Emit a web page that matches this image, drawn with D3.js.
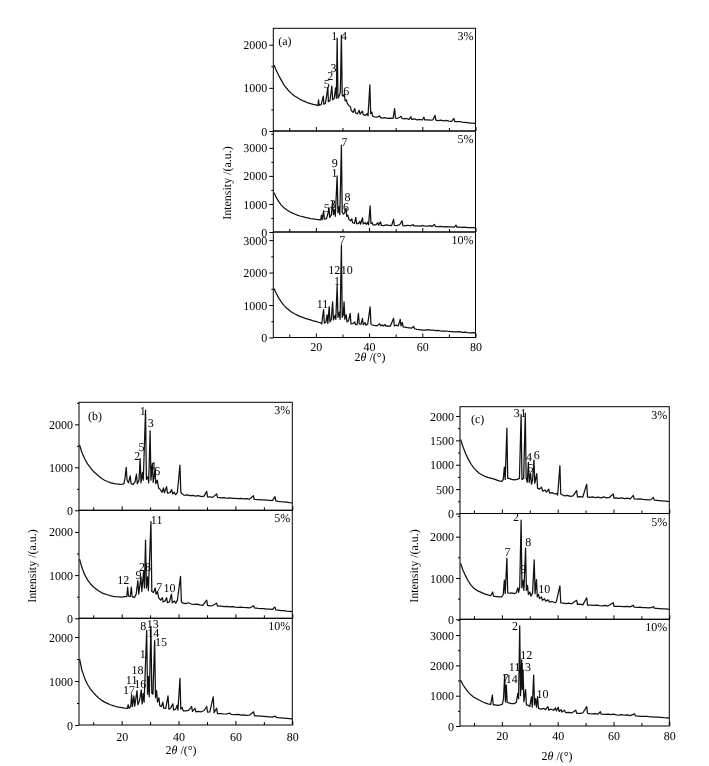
<!DOCTYPE html>
<html><head><meta charset="utf-8">
<script src="https://cdn.jsdelivr.net/npm/d3@7"></script>
<style>body{margin:0;background:#fff} svg{will-change:transform} svg text{font-family:"Liberation Serif","Times New Roman",serif;fill:#000;text-rendering:geometricPrecision;-webkit-font-smoothing:antialiased}</style>
</head><body><svg id="chart" width="709" height="766"></svg>
<script>
// ---------- data: [2theta, intensity] ----------
const a3 = [[4.3,1530],[5,1420],[6,1290],[7,1180],[8,1070],[9,990],[10,920],[11,860],[12,810],[13,775],[14,735],[15,705],[16,680],[17,650],[18,635],[19,615],[20,605],[20.8,590],[21.0,720],[21.2,600],[22,610],[22.8,810],[23.0,620],[23.6,640],[24.5,1010],[24.7,680],[25.3,700],[26.0,1040],[26.3,720],[26.9,760],[27.4,1000],[27.7,760],[28.0,2150],[28.3,760],[28.8,820],[29.2,900],[29.6,2220],[29.9,820],[30.4,810],[30.7,860],[31.0,700],[31.5,720],[31.8,640],[32.3,600],[33.0,560],[33.3,480],[34,430],[34.6,520],[34.9,420],[35.6,400],[36.3,480],[36.6,390],[37.5,460],[37.8,380],[38.6,360],[39.3,400],[39.6,350],[40.3,1070],[40.6,400],[41,440],[41.4,340],[42,330],[43,320],[44,350],[44.3,310],[45,300],[46,310],[47,290],[48,300],[49,290],[49.6,520],[49.9,300],[50.5,290],[51.5,320],[52,340],[52.4,290],[53,280],[54,290],[55,270],[55.7,330],[56,270],[57,280],[58,260],[59,270],[60,255],[60.6,320],[60.9,255],[62,260],[63,250],[64,260],[64.8,360],[65.1,250],[66,240],[67,250],[68,235],[69,245],[70,230],[71,225],[71.9,290],[72.2,220],[73,215],[74,220],[75,205],[76,200],[77,195],[78,185],[79,180],[80,170]];
const a5 = [[4.3,1400],[5,1250],[6,1090],[7,960],[8,860],[9,790],[10,730],[11,680],[12,640],[13,600],[14,570],[15,545],[16,520],[17,500],[18,480],[19,465],[20,450],[21,440],[21.8,430],[22.1,600],[22.4,440],[22.9,750],[23.2,460],[24,480],[24.6,680],[24.9,870],[25.2,520],[25.8,600],[26.3,1090],[26.6,620],[27.0,800],[27.3,560],[28.0,2000],[28.3,680],[28.7,900],[29.0,620],[29.6,3100],[29.9,700],[30.4,640],[30.8,680],[31.3,850],[31.6,560],[32,600],[32.4,450],[33,400],[33.5,470],[33.8,330],[34.5,310],[35.0,520],[35.3,300],[36,300],[36.5,380],[36.8,280],[37.5,500],[37.8,290],[38.5,330],[39,270],[39.5,350],[39.8,260],[40.4,930],[40.7,300],[41.2,330],[41.5,250],[42.5,250],[43.3,330],[43.6,240],[44.3,360],[44.6,240],[45.5,230],[46.5,250],[47.5,240],[48.5,230],[49.2,450],[49.5,240],[50.5,230],[51.5,260],[52.4,400],[52.7,230],[53.5,220],[54.5,240],[55.5,215],[56.5,270],[56.8,215],[58,220],[59,210],[60,230],[61,205],[62,210],[63,230],[63.6,195],[64.6,270],[64.9,200],[66,190],[67,200],[68,185],[69,195],[70,180],[71,185],[72,175],[72.7,240],[73,170],[74,175],[75,165],[76,170],[77,160],[78,155],[79,160],[80,150]];
const a10 = [[4.3,1510],[5,1380],[6,1220],[7,1100],[8,990],[9,910],[10,840],[11,780],[12,730],[13,690],[14,650],[15,620],[16,590],[17,565],[18,540],[19,515],[20,495],[21,470],[21.8,450],[22.2,420],[22.9,860],[23.2,440],[23.8,480],[24.2,700],[24.5,430],[25.0,950],[25.3,480],[25.8,560],[26.3,1100],[26.6,540],[27.2,680],[27.5,560],[28.0,1610],[28.3,620],[28.8,780],[29.1,560],[29.6,2850],[29.9,620],[30.3,700],[30.6,1100],[30.9,560],[31.4,700],[31.7,480],[32.3,520],[32.9,740],[33.2,420],[34,430],[34.6,480],[34.9,400],[35.5,400],[36.0,740],[36.3,420],[37,410],[37.5,590],[37.8,400],[38.5,460],[38.8,380],[39.5,420],[40.4,945],[40.7,420],[41.2,380],[42,370],[43,360],[44,420],[44.3,360],[45,390],[45.3,350],[46,400],[46.3,350],[47,360],[48,350],[49.2,590],[49.5,360],[50.3,380],[51.0,360],[51.7,560],[52.0,360],[52.5,460],[52.8,330],[54,310],[55,300],[56,290],[56.8,340],[57.1,270],[58,250],[59,240],[60,230],[61,225],[62,240],[63,225],[64,230],[65,215],[66,220],[67,200],[68,195],[69,200],[70,185],[71,180],[72,175],[73,170],[74,180],[75,160],[76,165],[77,150],[78,145],[79,150],[80,140]];

const b3 = [[5.2,1520],[6,1350],[7,1200],[8,1080],[9,990],[10,910],[11,850],[12,790],[13,740],[14,700],[15,670],[16,645],[17,625],[18,615],[19,610],[20,600],[20.8,620],[21.2,760],[21.6,1000],[21.9,700],[22.4,640],[23.0,800],[23.3,620],[24,600],[24.7,660],[25.2,840],[25.5,620],[26.1,700],[26.5,1200],[26.8,640],[27.3,880],[27.6,700],[28.4,2330],[28.7,720],[29.2,780],[29.5,640],[30.0,1850],[30.3,700],[30.8,1090],[31.1,650],[31.7,940],[32.0,620],[32.5,700],[33,520],[33.6,480],[34.2,420],[34.7,520],[35,410],[35.8,550],[36.1,400],[37,410],[37.6,480],[37.9,380],[38.5,420],[39,360],[39.6,420],[40.5,1050],[40.8,420],[41.3,380],[42,350],[43,360],[44,340],[45,345],[46,330],[47,340],[48,320],[49,330],[49.9,440],[50.2,310],[51,310],[52,300],[53.4,380],[53.7,300],[55,290],[56,295],[57,280],[58,290],[59,275],[60,280],[61,270],[62,275],[63,265],[64,270],[65,260],[66.3,340],[66.6,255],[68,250],[69,245],[70,240],[71,235],[72,230],[73,225],[73.9,320],[74.2,220],[75,210],[76,200],[77,195],[78,190],[79,180],[80,175]];
const b5 = [[5.2,1370],[6,1180],[7,1010],[8,890],[9,800],[10,730],[11,680],[12,630],[13,590],[14,565],[15,545],[16,525],[17,510],[18,500],[19,495],[20,490],[21,500],[21.8,500],[22.1,720],[22.4,510],[23.0,500],[23.4,720],[23.7,500],[24.5,480],[25.1,560],[25.7,870],[26.0,560],[26.8,960],[27.1,620],[27.7,1080],[28.0,700],[28.4,1810],[28.7,700],[29.1,960],[29.4,640],[30.3,2240],[30.6,620],[31.2,600],[31.8,700],[32.1,560],[32.6,620],[33,480],[33.7,420],[34.3,480],[34.6,380],[35.3,400],[35.8,480],[36.1,360],[36.8,380],[37.5,560],[37.8,360],[38.5,400],[39,350],[39.6,420],[40.7,970],[41.0,380],[41.6,350],[42.5,340],[43.5,360],[44.5,330],[45.5,320],[46.5,330],[47.5,310],[48.5,300],[49.9,420],[50.2,300],[51,290],[52,295],[53.4,350],[53.7,280],[55,280],[56,270],[57,275],[58,265],[59,270],[60,260],[61,255],[62,260],[63,250],[64,245],[65,240],[66.4,290],[66.7,240],[68,230],[69,225],[70,225],[71,215],[72,210],[73,205],[73.9,260],[74.2,195],[75,190],[76,180],[77,175],[78,165],[79,160],[80,155]];
const b10 = [[5.2,1500],[6,1250],[7,1060],[8,920],[9,820],[10,740],[11,670],[12,610],[13,560],[14,520],[15,490],[16,460],[17,440],[18,420],[19,405],[20,395],[21,385],[22,380],[22.3,460],[22.6,380],[23.2,420],[23.5,690],[23.8,420],[24.3,660],[24.6,430],[25.4,780],[25.7,460],[26.3,560],[26.9,800],[27.2,480],[27.6,720],[27.9,520],[28.8,2150],[29.1,700],[29.4,1100],[29.7,640],[30.3,2240],[30.6,720],[31.0,700],[31.6,1920],[31.9,620],[32.3,780],[32.6,520],[33.1,620],[33.4,440],[34.0,420],[34.5,520],[34.8,380],[35.5,380],[36.3,660],[36.6,360],[37.2,380],[38.0,480],[38.3,340],[39,360],[39.5,450],[39.8,340],[40.5,1060],[40.8,360],[41.3,400],[41.6,320],[42.5,320],[43.5,330],[44.6,420],[44.9,310],[45.8,380],[46.1,300],[47,310],[48,300],[49,330],[49.9,420],[50.2,290],[51,300],[52.2,640],[52.5,280],[53.4,380],[53.7,260],[55,260],[56,250],[57,255],[58,270],[58.5,240],[60,235],[61,240],[62,225],[63,230],[64,220],[65,225],[66.4,300],[66.7,210],[68,205],[69,200],[70,195],[71,190],[72,185],[73,180],[74,200],[74.5,170],[75,165],[76,160],[77,155],[78,150],[79,145],[80,140]];

const c3 = [[5.2,1520],[6,1380],[7,1230],[8,1110],[9,1010],[10,930],[11,870],[12,820],[13,790],[14,760],[15,740],[16,725],[17,710],[18,690],[19,670],[20,660],[20.5,700],[20.9,950],[21.2,700],[21.8,1750],[22.1,720],[22.6,720],[23.5,700],[24.5,690],[25.5,700],[26.3,720],[26.9,2030],[27.2,700],[27.8,720],[28.4,2060],[28.7,720],[29.1,640],[29.5,1050],[29.8,640],[30.3,830],[30.6,600],[31.0,680],[31.5,1100],[31.8,620],[32.5,820],[32.8,520],[33.5,500],[34.2,540],[34.6,460],[35.5,480],[36,440],[36.8,500],[37.1,420],[38,430],[38.8,400],[39.5,410],[40.0,380],[40.8,980],[41.1,400],[41.8,380],[42.5,360],[43.5,370],[44.5,350],[45.5,360],[46.8,470],[47.1,340],[48,345],[49,335],[50.4,600],[50.7,340],[51.5,330],[52.5,340],[53.5,325],[54.5,335],[55.5,320],[56.5,340],[57.5,320],[58.5,330],[59.9,400],[60.2,315],[61,320],[62,310],[63,320],[64,305],[65,315],[66,300],[67.1,370],[67.4,300],[68.5,295],[69.5,300],[70.5,290],[71.5,285],[72.5,280],[73.5,285],[74.3,330],[74.6,275],[75.5,270],[76.5,265],[77.5,260],[78.5,255],[79.5,250],[80,245]];
const c5 = [[5.2,1360],[6,1200],[7,1050],[8,920],[9,820],[10,750],[11,700],[12,670],[13,640],[14,610],[15,590],[16,570],[16.7,660],[17.0,560],[18,550],[19,540],[20,545],[20.5,600],[20.9,950],[21.2,620],[21.8,1480],[22.1,640],[22.8,630],[23.5,640],[24.5,620],[25.2,650],[25.7,760],[26.0,650],[26.4,780],[26.9,2400],[27.2,760],[27.6,940],[27.9,700],[28.5,1720],[28.8,700],[29.2,820],[29.5,600],[30.0,660],[30.4,560],[31.0,640],[31.6,1440],[31.9,620],[32.4,960],[32.7,540],[33.1,600],[33.5,500],[34.2,540],[34.5,460],[35.3,500],[35.7,440],[36.5,470],[37,420],[38,430],[39,400],[39.5,420],[40.8,810],[41.1,400],[42,390],[43,380],[44,390],[45,375],[46.8,460],[47.1,360],[48,365],[49,350],[50.4,520],[50.7,345],[52,340],[53,335],[54,345],[55,330],[56,325],[57,335],[58,320],[59.9,400],[60.2,315],[61.5,310],[62.5,315],[63.5,305],[65,310],[66,300],[67.1,340],[67.4,295],[68.5,290],[69.5,295],[70.5,285],[71.5,280],[72.5,275],[73.5,280],[74.3,310],[74.6,270],[75.5,265],[76.5,260],[77.5,255],[78.5,250],[79.5,245],[80,240]];
const c10 = [[5.2,1520],[6,1370],[7,1230],[8,1110],[9,1020],[10,950],[11,900],[12,850],[13,800],[14,760],[15,730],[16,710],[16.6,1020],[16.9,700],[17.5,700],[18.5,680],[19.5,700],[20.2,720],[20.6,900],[21.0,1680],[21.3,800],[21.6,1350],[21.9,780],[22.5,760],[23.5,740],[24.5,740],[25.2,780],[25.7,1080],[26.0,900],[26.4,3300],[26.7,1000],[27.1,2180],[27.3,1200],[27.6,1850],[27.9,800],[28.5,1200],[28.8,700],[29.5,680],[30.0,640],[30.6,960],[30.9,620],[31.4,1680],[31.7,700],[32.1,900],[32.4,620],[32.8,970],[33.1,580],[34,560],[35,580],[35.6,540],[36.5,640],[36.8,520],[37.5,560],[38.5,520],[39.2,600],[39.5,500],[40.2,620],[40.5,480],[41.2,540],[41.5,460],[42.5,520],[42.8,440],[44,450],[45,430],[46.5,520],[46.8,420],[48,420],[49,430],[50.4,640],[50.7,420],[51.5,410],[52.5,400],[53.5,410],[54.5,395],[55.3,470],[55.6,390],[57,385],[58,390],[59,375],[60,390],[61,370],[62,360],[63,375],[64,355],[65,365],[66,345],[67.6,400],[67.9,330],[69,325],[70,320],[71,315],[72,320],[73,305],[74,300],[75,295],[76,290],[77,285],[78,275],[79,270],[80,265]];

// peak annotations [text, 2theta, intensity]
const labA3 = [["1",26.9,2107],["4",30.6,2107],["3",26.6,1366],["2",25.4,1180],["5",24.1,995],["6",31.4,840]];
const labA5 = [["7",30.8,3080],["9",27.1,2310],["1",27.0,1950],["5",24.1,700],["3",26.4,860],["8",31.9,1120],["6",31.3,760]];
const labA10 = [["7",29.9,2880],["12",26.9,1953],["10",31.6,1953],["1",27.9,1623],["11",22.5,904]];
const labB3 = [["1",27.4,2224],["3",30.2,1945],["5",27.0,1372],["2",25.5,1177],["4",30.9,937],["6",32.5,828]];
const labB5 = [["11",32.3,2183],["28",28.2,1102],["9",25.9,910],["12",20.6,794],["7",33.2,639],["10",36.8,602]];
const labB10 = [["8",27.6,2159],["13",30.9,2205],["14",31.1,1993],["15",33.8,1803],["1",27.4,1523],["18",25.6,1159],["11",23.5,932],["16",26.5,841],["17",22.6,705]];
const labC3 = [["3",25.3,1971],["1",27.7,1971],["4",29.7,1070],["6",32.5,1117],["5",30.3,844]];
const labC5 = [["2",25.1,2372],["8",29.5,1767],["7",22.0,1540],["9",27.7,1114],["10",35.2,629]];
const labC10 = [["2",24.7,3168],["12",28.7,2211],["11",24.5,1805],["13",28.3,1805],["7",21.4,1442],["14",23.5,1419],["10",34.6,924]];

const contents = ["3%","5%","10%"];
const xTickVals = [20,40,60,80];
const xMinorVals = [10,30,50,70];
const yTicksA = [[0,1000,2000],[0,1000,2000,3000],[0,1000,2000,3000]];
const yTicksB = [[0,1000,2000],[0,1000,2000],[0,1000,2000]];
const yTicksC = [[0,500,1000,1500,2000],[0,1000,2000],[0,1000,2000,3000]];
const yMaxA = [2380,3600,3250], yMaxB = [2512,2500,2425], yMaxC = [2190,2560,3520];

// ---------- layout ----------
const groups = [
  {tag:"(a)", x0:273.3, x1:475.5, xd:[4,80], bands:[[28.3,131],[131,232],[232,337.5]], ymax:yMaxA, yt:yTicksA,
   series:[a3,a5,a10], labs:[labA3,labA5,labA10], tagOff:[5,17], tickLab:13.5, xTitle:[370,361], yTitle:[231,183]},
  {tag:"(b)", x0:79, x1:292.3, xd:[5,80], bands:[[402.3,510.3],[510.3,618.3],[618.3,725]], ymax:yMaxB, yt:yTicksB,
   series:[b3,b5,b10], labs:[labB3,labB5,labB10], tagOff:[9,18], tickLab:16.5, xTitle:[181,754], yTitle:[36,566]},
  {tag:"(c)", x0:460, x1:669.3, xd:[5,80], bands:[[406.7,513.5],[513.5,619.3],[619.3,726]], ymax:yMaxC, yt:yTicksC,
   series:[c3,c5,c10], labs:[labC3,labC5,labC10], tagOff:[11,16], tickLab:14, xTitle:[557,760], yTitle:[418,566]}
];

const svg = d3.select("#chart");
const FS = 12;

groups.forEach((g,gi)=>{
  const x = d3.scaleLinear().domain(g.xd).range([g.x0,g.x1]);
  g.bands.forEach((b,pi)=>{
    const y = d3.scaleLinear().domain([0,g.ymax[pi]]).range([b[1],b[0]]);
    const cid = "clip"+gi+"_"+pi;
    svg.append("clipPath").attr("id",cid).append("rect")
      .attr("x",g.x0).attr("y",b[0]).attr("width",g.x1-g.x0).attr("height",b[1]-b[0]);
    const line = d3.line().x(d=>x(d[0])).y(d=>y(d[1]));
    svg.append("path").datum(g.series[pi]).attr("clip-path","url(#"+cid+")")
      .attr("d",line).attr("fill","none").attr("stroke","#111").attr("stroke-width",1.25)
      .attr("stroke-linejoin","round");
    const yt = g.yt[pi];
    const step = yt[1]-yt[0];
    const minor = [];
    for (let v=step/2; v<g.ymax[pi]; v+=step) if(!yt.includes(v)) minor.push(v);
    const ya = svg.append("g").attr("transform",`translate(${g.x0},0)`)
      .call(d3.axisLeft(y).tickValues(yt).tickSize(4).tickPadding(2).tickFormat(d3.format("d")));
    ya.select(".domain").remove();
    ya.selectAll("text").attr("font-size",FS).attr("font-family","Liberation Serif").attr("dy","0.34em");
    const ym = svg.append("g").attr("transform",`translate(${g.x0},0)`)
      .call(d3.axisLeft(y).tickValues(minor).tickSize(2).tickFormat(""));
    ym.select(".domain").remove();
    const xa = svg.append("g").attr("transform",`translate(0,${b[1]})`)
      .call(d3.axisBottom(x).tickValues(xTickVals).tickSizeInner(-4).tickSizeOuter(0).tickFormat(""));
    xa.select(".domain").remove();
    const xm = svg.append("g").attr("transform",`translate(0,${b[1]})`)
      .call(d3.axisBottom(x).tickValues(xMinorVals).tickSizeInner(-3).tickSizeOuter(0).tickFormat(""));
    xm.select(".domain").remove();
    if (pi===2) {
      const xl = svg.append("g").attr("transform",`translate(0,${b[1]})`)
        .call(d3.axisBottom(x).tickValues(xTickVals).tickSize(0).tickPadding(g.tickLab-9));
      xl.select(".domain").remove();
      xl.selectAll("text").attr("font-size",FS).attr("font-family","Liberation Serif");
    }
    svg.append("rect").attr("x",g.x0).attr("y",b[0]).attr("width",g.x1-g.x0).attr("height",b[1]-b[0])
      .attr("fill","none").attr("stroke","#000").attr("stroke-width",1);
    svg.append("text").attr("x",g.x1-2).attr("y",b[0]+12).attr("text-anchor","end")
      .attr("font-size",FS).text(contents[pi]);
    if (pi===0) svg.append("text").attr("x",g.x0+g.tagOff[0]).attr("y",b[0]+g.tagOff[1])
      .attr("font-size",FS).text(g.tag);
    svg.selectAll(null).data(g.labs[pi]).enter().append("text")
      .attr("x",d=>x(d[1])).attr("y",d=>y(d[2])).attr("text-anchor","middle")
      .attr("font-size",FS).text(d=>d[0]);
  });
  const xt = svg.append("text").attr("x",g.xTitle[0]).attr("y",g.xTitle[1]).attr("text-anchor","middle").attr("font-size",FS);
  xt.append("tspan").text("2");
  xt.append("tspan").attr("font-style","italic").text("θ");
  xt.append("tspan").text(" /(°)");
  svg.append("text").attr("transform",`translate(${g.yTitle[0]},${g.yTitle[1]}) rotate(-90)`)
    .attr("text-anchor","middle").attr("font-size",FS).text("Intensity /(a.u.)");
});
</script></body></html>
